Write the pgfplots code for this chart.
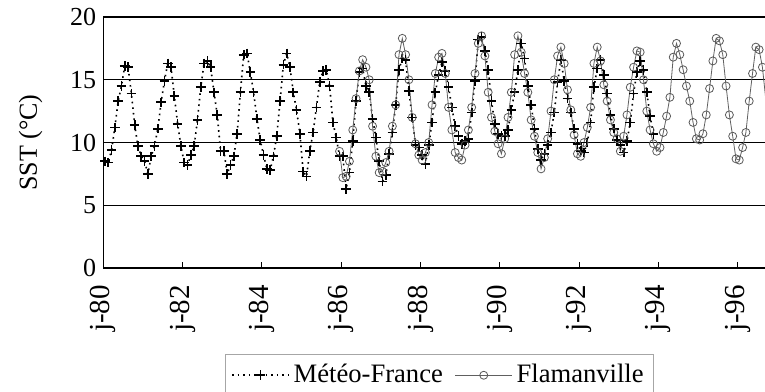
\documentclass[border=0pt]{standalone}
\usepackage{fontspec}
\setmainfont{Liberation Serif}
\usepackage{pgfplots}
\pgfplotsset{compat=1.18}
\usepackage{pgfplotstable}

% Meteo-France, monthly from Jan 1980
\pgfplotstableread[row sep=\\]{v\\
8.5\\ 8.4\\ 9.4\\ 11.2\\ 13.3\\ 14.5\\ 16.1\\ 16.0\\ 13.9\\ 11.4\\ 9.7\\ 8.9\\
8.5\\ 7.5\\ 8.9\\ 9.7\\ 11.1\\ 13.2\\ 14.9\\ 16.3\\ 16.0\\ 13.7\\ 11.5\\ 9.7\\
8.4\\ 8.2\\ 9.0\\ 9.7\\ 11.8\\ 14.4\\ 16.3\\ 16.5\\ 16.0\\ 14.0\\ 12.2\\ 9.3\\
9.3\\ 7.5\\ 8.2\\ 8.9\\ 10.7\\ 14.0\\ 17.0\\ 17.1\\ 15.6\\ 14.0\\ 11.9\\ 10.2\\
9.0\\ 7.9\\ 7.8\\ 8.9\\ 10.5\\ 13.3\\ 16.2\\ 17.1\\ 16.0\\ 14.0\\ 12.6\\ 10.7\\
7.7\\ 7.3\\ 9.3\\ 10.8\\ 12.8\\ 14.8\\ 15.7\\ 15.8\\ 14.5\\ 11.6\\ 10.4\\ 8.9\\
8.9\\ 6.3\\ 7.6\\ 10.1\\ 13.3\\ 15.6\\ 15.9\\ 14.5\\ 14.0\\ 11.9\\ 10.4\\ 8.5\\
6.9\\ 7.4\\ 9.1\\ 10.8\\ 13.0\\ 15.8\\ 16.7\\ 16.6\\ 14.1\\ 12.0\\ 9.8\\ 9.6\\
9.0\\ 8.3\\ 9.8\\ 11.6\\ 14.0\\ 15.4\\ 16.4\\ 15.7\\ 14.4\\ 12.8\\ 11.3\\ 10.5\\
9.9\\ 10.1\\ 10.3\\ 12.4\\ 14.9\\ 18.2\\ 18.4\\ 17.3\\ 15.8\\ 13.3\\ 11.5\\ 10.7\\
10.5\\ 10.5\\ 11.0\\ 12.6\\ 14.0\\ 15.8\\ 17.9\\ 16.7\\ 14.5\\ 13.0\\ 11.1\\ 9.5\\
8.6\\ 9.1\\ 9.8\\ 10.8\\ 12.4\\ 14.8\\ 16.6\\ 14.9\\ 13.5\\ 12.4\\ 11.1\\ 9.9\\
9.35\\ 9.2\\ 10.0\\ 11.6\\ 14.4\\ 15.9\\ 16.6\\ 15.4\\ 13.9\\ 12.2\\ 11.1\\ 10.2\\
9.8\\ 9.2\\ 10.1\\ 11.6\\ 13.9\\ 15.6\\ 16.5\\ 15.8\\ 14.0\\ 12.1\\ 10.7\\
}\meteo

% Flamanville, monthly from Dec 1985
\pgfplotstableread[row sep=\\]{v\\
9.3\\
7.2\\ 7.3\\ 8.5\\ 11.0\\ 13.5\\ 15.7\\ 16.6\\ 16.0\\ 15.0\\ 11.3\\ 8.9\\ 7.6\\
7.7\\ 8.4\\ 9.3\\ 11.3\\ 13.0\\ 17.0\\ 18.3\\ 17.0\\ 15.0\\ 12.0\\ 9.9\\ 9.0\\
8.6\\ 9.2\\ 10.0\\ 13.0\\ 15.5\\ 16.8\\ 17.1\\ 15.5\\ 12.8\\ 11.0\\ 9.2\\ 8.8\\
8.6\\ 9.8\\ 11.0\\ 12.8\\ 15.5\\ 17.9\\ 18.5\\ 16.9\\ 14.0\\ 12.0\\ 10.9\\ 9.9\\
9.1\\ 10.3\\ 12.0\\ 14.0\\ 17.0\\ 18.5\\ 17.2\\ 15.5\\ 14.0\\ 11.8\\ 10.5\\ 9.2\\
7.9\\ 8.8\\ 10.3\\ 12.5\\ 15.0\\ 16.9\\ 17.6\\ 16.3\\ 14.2\\ 12.6\\ 10.6\\ 9.1\\
8.9\\ 10.0\\ 11.2\\ 12.8\\ 16.3\\ 17.6\\ 16.5\\ 14.6\\ 13.3\\ 11.8\\ 10.8\\ 10.3\\
9.3\\ 10.5\\ 12.2\\ 14.4\\ 16.0\\ 17.3\\ 17.2\\ 15.0\\ 12.5\\ 11.0\\ 9.9\\ 9.3\\
9.6\\ 10.8\\ 12.1\\ 13.6\\ 16.8\\ 17.9\\ 17.0\\ 15.8\\ 14.5\\ 13.3\\ 11.6\\ 10.3\\
10.2\\ 10.7\\ 12.2\\ 14.3\\ 16.5\\ 18.3\\ 18.1\\ 17.0\\ 14.5\\ 12.2\\ 10.5\\ 8.7\\
8.6\\ 9.6\\ 10.8\\ 13.3\\ 15.5\\ 17.6\\ 17.4\\ 16.0\\ 13.5\\
}\flam

\begin{document}
\begin{tikzpicture}
\begin{axis}[
  scale only axis,
  width=330.85pt, height=125.5pt,
  at={(0,0)}, anchor=south west,
  xmin=1980, xmax=1996.69,
  ymin=0, ymax=20,
  ytick={0,5,10,15,20},
  xtick={1980,1982,1984,1986,1988,1990,1992,1994,1996},
  xticklabels={j-80,j-82,j-84,j-86,j-88,j-90,j-92,j-94,j-96},
  ymajorgrids,
  grid style={black, line width=0.7pt},
  axis x line*=bottom, axis y line*=left,
  axis line style={-, line width=0.75pt},
  tick align=inside,
  major tick length=3pt,
  xtick style={black, line width=0.4pt},
  ytick style={draw=none},
  /pgf/number format/assume math mode=true,
  tick label style={font=\fontsize{13}{15}\selectfont},
  xticklabel style={yshift=-5pt, rotate=90, anchor=east, font=\fontsize{14.5}{16}\selectfont},
  ylabel={SST (°C)},
  every axis y label/.style={at={(axis description cs:-0.11,0.5)}, rotate=90, anchor=center, font=\fontsize{13}{15}\selectfont},
  legend columns=2,
  legend style={at={(axis description cs:0.508,-0.343)}, anchor=north,
    draw=gray!70, line width=0.4pt, font=\fontsize{13.3}{15}\selectfont,
    inner xsep=3pt, inner ysep=3pt,
    /tikz/every even column/.append style={column sep=4pt}},
  legend image code/.code={\draw[mark repeat=2,mark phase=2,#1] plot coordinates {(0cm,0cm)(0.5cm,0cm)(1cm,0cm)};},
]
\addplot[black, dotted, line width=0.8pt, mark=+, mark size=2.4pt,
  mark options={solid, line width=0.85pt}]
  table[x expr=1980+(\coordindex+0.5)/12, y=v] {\meteo};
\addlegendentry{Météo-France}
\addplot[gray!75!black, line width=0.4pt, mark=o, mark size=2pt,
  mark options={solid, gray!70!black, line width=0.4pt}]
  table[x expr=1980+(\coordindex+71.5)/12, y=v] {\flam};
\addlegendentry{Flamanville}
\end{axis}
\pgfresetboundingbox
\path[use as bounding box] (-51.65pt,-61.5pt) rectangle (330.85pt,134pt);
\end{tikzpicture}
\end{document}
